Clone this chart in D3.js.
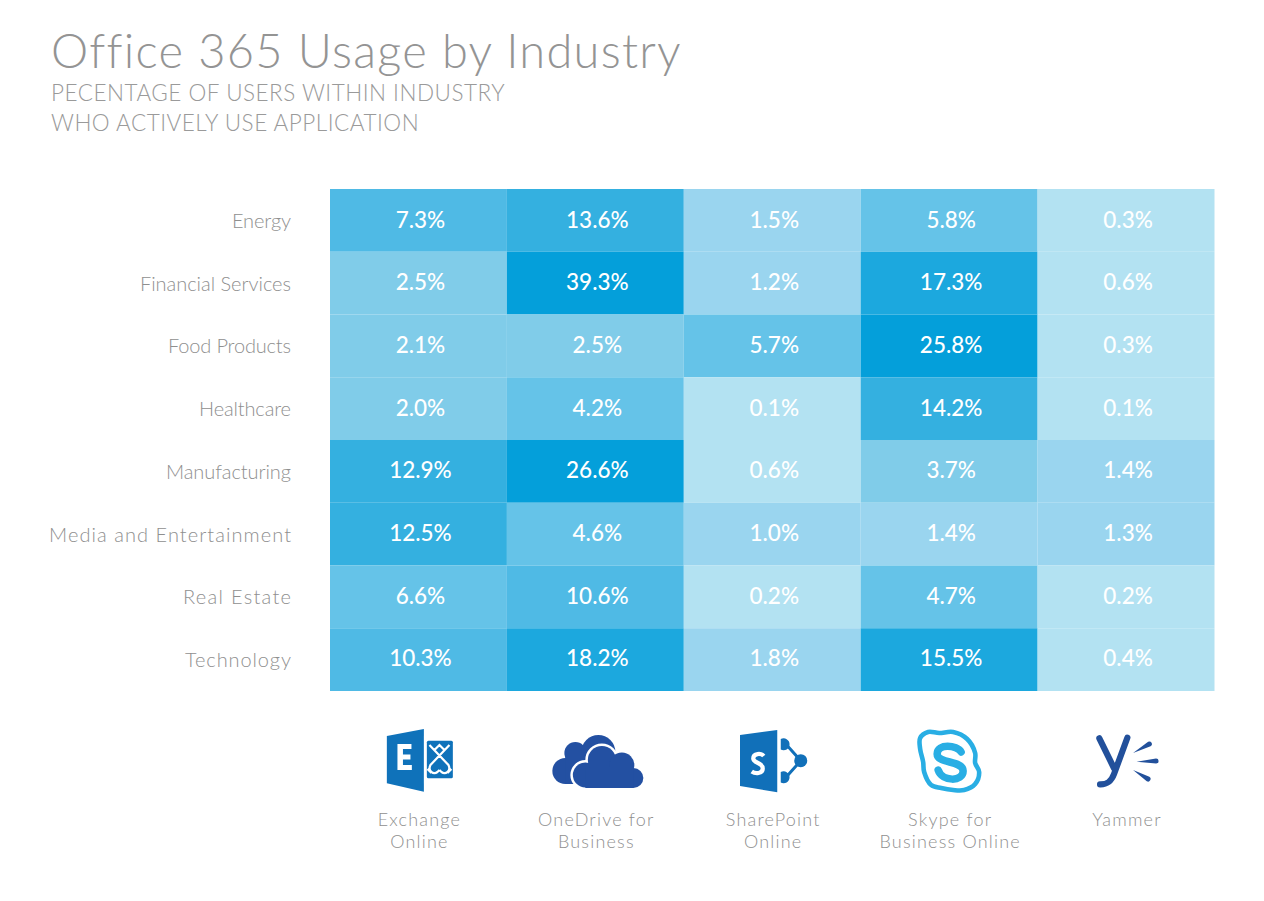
<!DOCTYPE html>
<html>
<head>
<meta charset="utf-8">
<script src="https://cdn.jsdelivr.net/npm/d3@7"></script>
<style>
    html, body { margin: 0; background: #fff; }
    svg { display: block; }
    text { font-family: Lato, Roboto, sans-serif; }
    .title { font-size: 47px; font-weight: 300; fill: #949494; letter-spacing: 1.25px; }
    .subtitle { font-size: 22.5px; font-weight: 300; fill: #9a9a9a; letter-spacing: 0.5px; }
    .row-label { font-size: 20px; font-weight: 300; fill: #8f8f8f; text-anchor: end; }
    .col-label { font-size: 18px; font-weight: 300; fill: #8f8f8f; text-anchor: middle; letter-spacing: 1.2px; }
    .value { font-size: 22.5px; font-weight: 500; fill: #fff; text-anchor: middle; dominant-baseline: central; }
</style>
</head>
<body>
<div id="chart"></div>
<script>
const industries = ["Energy", "Financial Services", "Food Products", "Healthcare", "Manufacturing", "Media and Entertainment", "Real Estate", "Technology"];
const apps = ["Exchange Online", "OneDrive for Business", "SharePoint Online", "Skype for Business Online", "Yammer"];
const appLabels = [["Exchange", "Online"], ["OneDrive for", "Business"], ["SharePoint", "Online"], ["Skype for", "Business Online"], ["Yammer"]];

const exchange = [7.3, 2.5, 2.1, 2.0, 12.9, 12.5, 6.6, 10.3];
const oneDrive = [13.6, 39.3, 2.5, 4.2, 26.6, 4.6, 10.6, 18.2];
const sharePoint = [1.5, 1.2, 5.7, 0.1, 0.6, 1.0, 0.2, 1.8];
const skype = [5.8, 17.3, 25.8, 14.2, 3.7, 1.4, 4.7, 15.5];
const yammer = [0.3, 0.6, 0.3, 0.1, 1.4, 1.3, 0.2, 0.4];
const series = [exchange, oneDrive, sharePoint, skype, yammer];

const colorBreaks = [1, 2, 4, 7, 12, 15, 25];
const colorSteps = ["#b3e2f2", "#9ad5ef", "#80cce9", "#65c3e8", "#4fbae5", "#34b0e0", "#1ca8de", "#049fda"];

// Rendered length of each row label, the original font is narrower than Lato.
const rowLabelWidths = [59, 151, 123, 92, 125, 242, 108, 106];

const width = 1264, height = 901;

const x = d3.scaleBand().domain(apps).range([330, 1214.5]);
const y = d3.scaleBand().domain(industries).range([189, 691]);
const yText = d3.scaleBand().domain(industries).range([188, 689]);
const color = d3.scaleThreshold().domain(colorBreaks).range(colorSteps);
const mid = a => x(a) + x.bandwidth() / 2;

const svg = d3.select("#chart").append("svg")
    .attr("width", width)
    .attr("height", height);

svg.append("text").attr("class", "title").attr("x", 51).attr("y", 68).text("Office 365 Usage by Industry");
svg.append("text").attr("class", "subtitle").attr("x", 51).attr("y", 101).text("PECENTAGE OF USERS WITHIN INDUSTRY");
svg.append("text").attr("class", "subtitle").attr("x", 51).attr("y", 131).text("WHO ACTIVELY USE APPLICATION");

const cells = apps.flatMap((app, c) => industries.map((ind, r) => ({ app, ind, v: series[c][r] })));

svg.append("g").selectAll("rect")
    .data(cells)
    .enter()
    .append("rect")
    .attr("x", d => x(d.app))
    .attr("y", d => y(d.ind))
    .attr("width", x.bandwidth())
    .attr("height", y.bandwidth())
    .attr("fill", d => color(d.v));

svg.append("g").selectAll("text")
    .data(cells)
    .enter()
    .append("text")
    .attr("class", "value")
    .attr("x", d => mid(d.app) + 2)
    .attr("y", d => yText(d.ind) + yText.bandwidth() / 2)
    .text(d => d.v.toFixed(1) + "%");

svg.append("g").selectAll("text")
    .data(industries)
    .enter()
    .append("text")
    .attr("class", "row-label")
    .attr("x", 291)
    .attr("y", d => y(d) + y.bandwidth() / 2 + 7.5)
    .attr("textLength", (d, i) => rowLabelWidths[i])
    .attr("lengthAdjust", "spacing")
    .text(d => d);

appLabels.forEach((lines, i) => {
    lines.forEach((line, j) => {
        svg.append("text")
            .attr("class", "col-label")
            .attr("x", mid(apps[i]) + 1)
            .attr("y", 826 + j * 22)
            .text(line);
    });
});

// Icons, drawn around the centre of each column.
const iconG = apps.map(a => svg.append("g").attr("transform", `translate(${mid(a)},760)`));

function cloud(g, fill, circles, box) {
    const s = g.append("g").attr("fill", fill);
    circles.forEach(c => s.append("circle").attr("cx", c[0]).attr("cy", c[1]).attr("r", c[2]));
    s.append("rect").attr("x", box[0]).attr("y", box[1]).attr("width", box[2] - box[0]).attr("height", box[3] - box[1]);
    return s;
}

// long thin stroke that widens towards its end, for the Yammer rays
function ray(g, fill, x1, y1, x2, y2, w) {
    const a = Math.atan2(y2 - y1, x2 - x1);
    const nx = -Math.sin(a) * w / 2, ny = Math.cos(a) * w / 2;
    g.append("path").attr("fill", fill)
        .attr("d", `M${x1},${y1} L${x2 + nx},${y2 + ny} A${w / 2},${w / 2} 0 0 0 ${x2 - nx},${y2 - ny} Z`);
}

// Exchange
const ex = iconG[0], exBlue = "#0f72ba";
ex.append("path").attr("fill", exBlue).attr("d", "M-31.6,-24 L5.4,-31 V31.7 L-31.6,23.3 Z");
ex.append("path").attr("fill", "#fff").attr("d", "M-21,-16 H-7 V-11 H-15.5 V-5.5 H-8 V-0.5 H-15.5 V5 H-6.6 V10 H-21 Z");
ex.append("rect").attr("fill", exBlue).attr("x", 8.4).attr("y", -19.3).attr("width", 26).attr("height", 37.6).attr("rx", 1.5);
ex.append("path").attr("fill", "none").attr("stroke", "#fff").attr("stroke-width", 2.2)
    .attr("d", "M11,-15 L30,5 C33,11 27,15 23,12 L21,10 M31,-15 L12,5 C9,11 15,15 19,12 L21,10 M16,-10 L21,-15 L26,-10 M9,9 L13,13 M33,9 L29,13");

// OneDrive
const od = iconG[1], odBlue = "#2350a2";
cloud(od, odBlue, [[-30, 11, 13], [-20, -7, 11], [3, -8, 17]], [-30, -5, 10, 24]);
const frontCircles = [[-10, 15, 12.5], [6.5, 0, 14], [26.5, 5, 12.5], [38, 18, 10]];
const frontBox = [-10, 8, 38, 28];
cloud(od, "#fff", frontCircles, frontBox).selectAll("circle, rect").attr("stroke", "#fff").attr("stroke-width", 5);
cloud(od, odBlue, frontCircles, frontBox);

// SharePoint
const sp = iconG[2], spBlue = "#1170b9";
sp.append("path").attr("fill", "none").attr("stroke", spBlue).attr("stroke-width", 3)
    .attr("d", "M13.75,-15.7 L28.5,0.7 L13.75,17.3");
sp.append("path").attr("fill", spBlue).attr("d", "M8.5,-21 A6,6 0 1 1 8.5,-10.4 Z M8.5,12 A6,6 0 1 1 8.5,22.6 Z");
sp.append("circle").attr("fill", spBlue).attr("cx", 28.5).attr("cy", 0.7).attr("r", 6.5);
sp.append("path").attr("fill", spBlue).attr("d", "M-32.25,-25 L5,-30 V32.3 L-32.25,26 Z");
sp.append("path").attr("fill", "none").attr("stroke", "#fff").attr("stroke-width", 4.2)
    .attr("d", "M-8.5,-4 C-11,-7 -19,-7 -19,-1.5 C-19,3.5 -9.5,2 -9.5,8.5 C-9.5,14 -17,14 -20.5,11.5");

// Skype
const sk = iconG[3], skBlue = "#29aee4";
const skypeOutline = [[-21, -28], [-10, -27], [4, -28], [18, -21], [26, -7], [26, 3], [30, 12], [26, 24], [15, 30], [4, 30], [-8, 28], [-18, 25], [-25, 12], [-26, 2], [-29, -11], [-29, -22]];
sk.append("path").attr("fill", "none").attr("stroke", skBlue).attr("stroke-width", 4.6)
    .attr("d", d3.line().curve(d3.curveCatmullRomClosed)(skypeOutline));
sk.append("path").attr("fill", "none").attr("stroke", skBlue).attr("stroke-width", 7.5).attr("stroke-linecap", "round")
    .attr("d", "M12,-8 C8,-15 -12,-17 -12,-6 C-12,4 14,0 14,11 C14,22 -7,22 -11,10");

// Yammer
const ya = iconG[4], yaBlue = "#22509b";
ya.append("path").attr("fill", "none").attr("stroke", yaBlue).attr("stroke-width", 6.2).attr("stroke-linecap", "round")
    .attr("d", "M-26.7,-21.7 L-12,8.3 M1.3,-22.3 L-12,14 C-15,22 -19,24.5 -26,24.3");
ray(ya, yaBlue, 7, -7, 23.3, -16, 5);
ray(ya, yaBlue, 10.5, 1.7, 30, 1, 5);
ray(ya, yaBlue, 7, 10, 22, 19, 5);
</script>
</body>
</html>
